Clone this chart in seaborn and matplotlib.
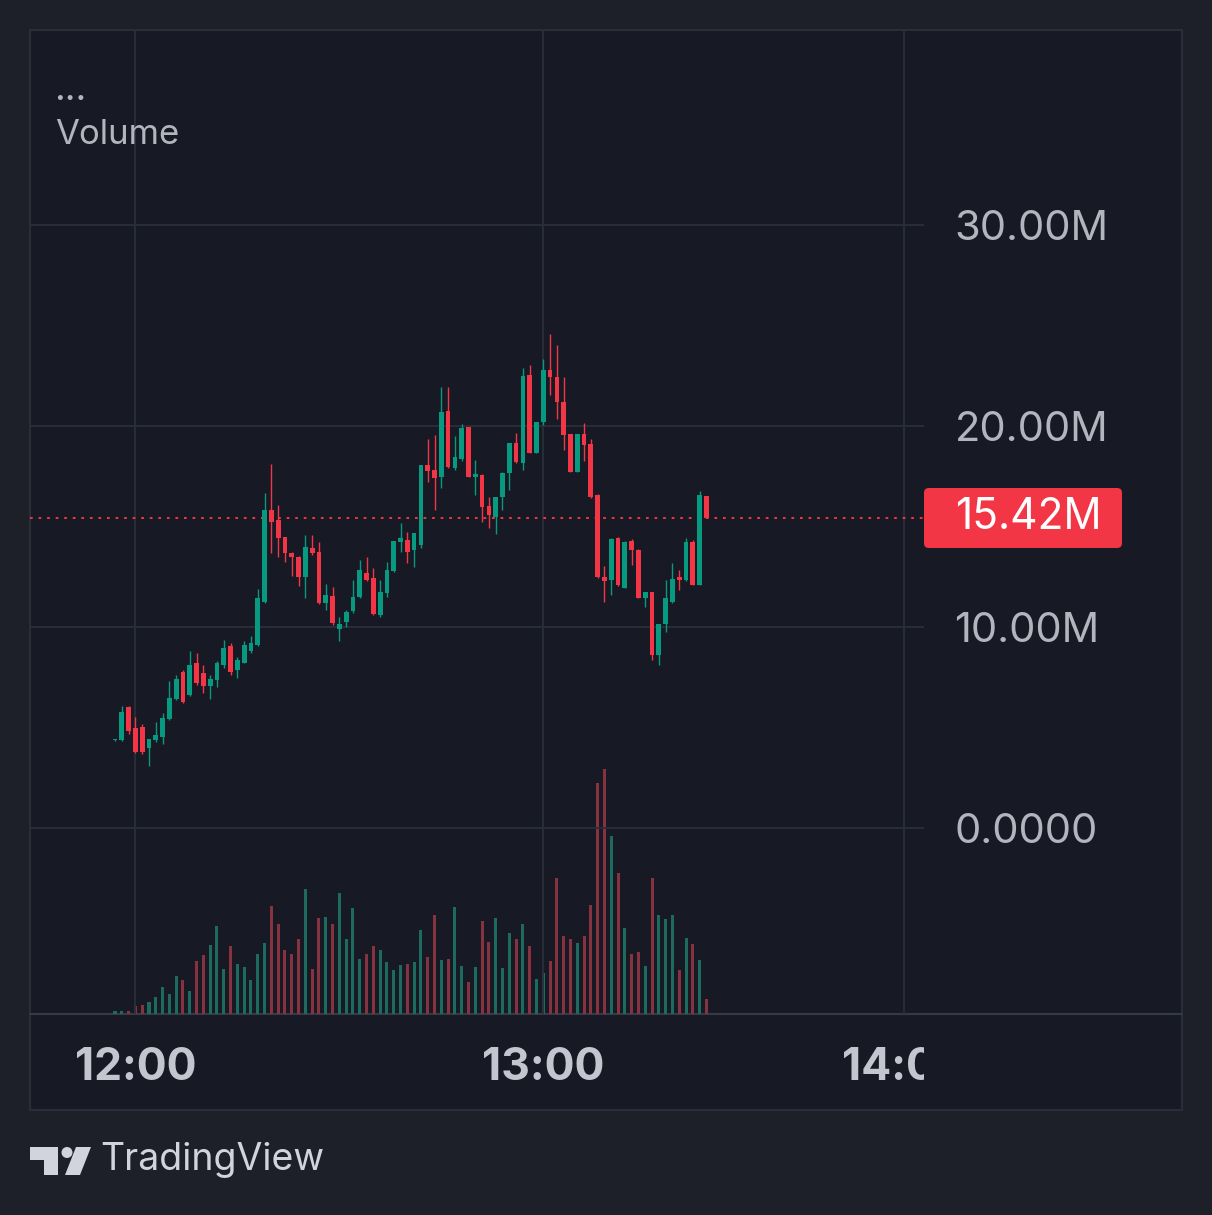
import matplotlib
matplotlib.use("Agg")
import matplotlib.pyplot as plt
from matplotlib.patches import Rectangle, FancyBboxPatch, Circle, Polygon
from matplotlib.lines import Line2D
import numpy as np
import pandas as pd
import seaborn as sns

# ---------------- data (1-minute bars, 11:57 .. 13:24), values in millions ----------------
bar_index = list(range(88))
open_ = [4.36, 4.38, 6.02, 4.98, 5.02, 3.98, 4.38, 4.53, 5.42, 6.42,
         7.76, 6.62, 8.21, 7.71, 7.06, 7.36, 8.11, 9.05, 7.86, 8.21,
         8.81, 9.10, 11.24, 15.82, 15.32, 14.48, 13.68, 13.48, 12.49, 13.93,
         13.73, 11.19, 11.54, 9.90, 10.25, 10.80, 11.49, 12.69, 12.44, 10.60,
         11.69, 12.79, 14.23, 14.33, 13.83, 14.08, 18.06, 17.81, 17.46, 20.75,
         17.91, 18.36, 19.95, 17.46, 17.56, 16.02, 15.47, 16.47, 17.66, 19.15,
         18.16, 22.54, 18.66, 20.20, 22.79, 22.44, 21.19, 19.60, 17.71, 19.60,
         19.10, 16.57, 12.49, 12.34, 14.43, 11.94, 14.28, 13.83, 11.44, 11.74,
         8.61, 10.15, 11.24, 12.49, 12.34, 14.23, 12.09, 16.52]
high = [4.43, 6.07, 6.07, 5.52, 5.17, 4.43, 5.27, 5.72, 7.31, 7.61,
        7.86, 8.81, 8.71, 8.11, 7.61, 8.31, 9.35, 9.20, 8.51, 9.30,
        9.55, 11.89, 16.67, 18.11, 16.07, 14.48, 13.73, 13.53, 14.58, 14.58,
        14.23, 12.14, 11.99, 10.50, 10.85, 12.34, 13.33, 13.48, 12.94, 12.34,
        13.23, 14.28, 15.17, 14.73, 14.68, 18.06, 19.35, 19.55, 21.94, 21.94,
        19.50, 20.10, 19.95, 18.31, 17.61, 16.47, 16.47, 17.71, 19.15, 19.65,
        22.89, 23.03, 20.20, 23.33, 24.58, 24.03, 22.44, 19.60, 19.60, 20.15,
        19.35, 16.62, 13.03, 14.43, 14.48, 14.28, 14.38, 13.88, 11.74, 11.74,
        10.15, 12.34, 13.18, 12.84, 14.43, 14.33, 16.77, 16.52]
low = [4.33, 4.33, 4.68, 3.73, 3.68, 3.08, 4.28, 4.18, 5.37, 6.37,
       6.22, 6.57, 7.11, 6.72, 6.42, 7.01, 7.96, 7.61, 7.46, 8.21,
       8.71, 9.05, 11.19, 13.68, 13.48, 13.23, 12.54, 12.04, 11.44, 13.58,
       11.14, 10.85, 10.10, 9.30, 10.00, 10.70, 11.44, 12.29, 10.60, 10.50,
       11.49, 12.74, 13.73, 13.18, 12.98, 13.93, 17.21, 15.82, 16.92, 17.91,
       17.81, 18.26, 17.46, 16.57, 15.22, 14.93, 14.63, 15.82, 16.82, 18.16,
       17.81, 18.66, 18.66, 20.05, 21.54, 20.35, 18.81, 17.71, 17.71, 18.26,
       16.42, 12.44, 11.24, 11.59, 12.04, 11.94, 13.08, 11.44, 10.99, 8.36,
       8.11, 9.75, 11.19, 11.84, 12.29, 12.09, 12.09, 15.42]
close = [4.40, 5.77, 4.83, 3.78, 3.78, 4.43, 4.63, 5.47, 6.47, 7.41,
         6.27, 8.11, 7.21, 7.06, 7.41, 8.21, 8.96, 7.76, 8.36, 9.10,
         9.20, 11.44, 15.82, 15.22, 14.43, 13.68, 13.48, 12.49, 13.98, 13.68,
         11.19, 11.59, 10.20, 10.15, 10.75, 11.49, 12.84, 12.34, 10.65, 11.74,
         12.84, 14.28, 14.43, 13.73, 14.68, 18.06, 17.76, 17.41, 20.70, 17.96,
         18.46, 19.90, 17.46, 17.61, 15.97, 15.57, 16.47, 17.66, 19.15, 18.21,
         22.49, 18.66, 20.20, 22.79, 22.44, 21.19, 19.55, 17.71, 19.60, 19.05,
         16.47, 12.49, 12.29, 14.38, 12.09, 14.23, 13.83, 11.44, 11.74, 8.61,
         10.15, 11.44, 12.39, 12.34, 14.23, 12.09, 16.57, 15.42]
# volume (x100K shares)
volume = [3, 3, 3, 8, 9, 12, 17, 27, 20, 38,
          34, 23, 53, 59, 69, 88, 45, 68, 50, 47,
          34, 60, 71, 108, 90, 64, 60, 75, 125, 45,
          96, 97, 90, 121, 75, 106, 55, 60, 68, 64,
          52, 44, 49, 50, 52, 84, 57, 99, 54, 55,
          107, 48, 32, 47, 93, 72, 96, 46, 81, 75,
          90, 68, 35, 41, 53, 136, 78, 75, 71, 78,
          109, 231, 245, 178, 141, 86, 60, 62, 48, 136,
          99, 95, 99, 44, 76, 70, 54, 15]

time_tick_pos = [3, 63, 116]
time_tick_labels = ["12:00", "13:00", "14:00"]
price_ticks = [0, 10, 20, 30]
price_tick_labels = ["0.0000", "10.00M", "20.00M", "30.00M"]
last_price = 15.42
last_price_label = "15.42M"
pane_title = "Volume"

# ---------------- style ----------------
OUTER_BG = "#1e2029"
PANE_BG = "#171a24"
BORDER = "#2a2e39"
GRID = "#2a2e39"
UP = "#089981"
DOWN = "#f23645"
VOL_UP = "#1d6a5e"
VOL_DOWN = "#86323f"
TEXT = "#b2b5be"

sns.set_theme(style="dark", rc={"axes.facecolor": PANE_BG, "figure.facecolor": OUTER_BG})
plt.rcParams["font.family"] = ["Inter", "DejaVu Sans"]

W, H = 1212, 1215
fig = plt.figure(figsize=(W / 100, H / 100), dpi=100, facecolor=OUTER_BG)


def fx(px):
    return px / W


def fy(py):
    return 1 - py / H


# pane background and frame
fig.patches.append(Rectangle((fx(30), fy(1110)), fx(1182) - fx(30), fy(30) - fy(1110),
                             transform=fig.transFigure, facecolor=PANE_BG,
                             edgecolor=BORDER, lw=1.5, zorder=-5))
fig.lines.append(Line2D([fx(30), fx(1182)], [fy(1014), fy(1014)], transform=fig.transFigure,
                        color="#363a45", lw=1.5, zorder=-4))

ax = fig.add_axes([fx(30), fy(1014), fx(924) - fx(30), fy(30) - fy(1014)])
ax.set_facecolor("none")
for s in ax.spines.values():
    s.set_visible(False)

df = pd.DataFrame({"idx": bar_index, "open": open_, "high": high, "low": low,
                   "close": close, "volume": volume})
df["dir"] = np.where(df["close"] >= df["open"], "up", "down")
colors = [UP if d == "up" else DOWN for d in df["dir"]]

# volume on twin axis
ax2 = ax.twinx()
sns.barplot(data=df, x="idx", y="volume", hue="dir", palette={"up": VOL_UP, "down": VOL_DOWN},
            native_scale=True, dodge=False, width=0.45, errorbar=None, legend=False,
            saturation=1, linewidth=0, edgecolor="none", ax=ax2)
ax2.set_ylim(0, 984)
ax2.set_yticks([])
ax2.set_ylabel("")
ax2.set_xlabel("")
for s in ax2.spines.values():
    s.set_visible(False)

# candles
ax.vlines(df["idx"], df["low"], df["high"], colors=colors, lw=1.0, zorder=3)
body_bottom = np.minimum(df["open"], df["close"])
body_h = np.maximum(np.abs(df["close"] - df["open"]), 0.06)
ax.bar(df["idx"], body_h, bottom=body_bottom, width=0.7, color=colors, lw=0, zorder=4)

# last price line
ax.axhline(last_price, color=DOWN, lw=1.4, ls=(0, (1.4, 3.0)), zorder=2)

ax.set_xlim(-12.5, 119.0)
ax.set_ylim(-9.25, 39.70)
ax.set_xticks(time_tick_pos)
ax.set_yticks(price_ticks)
ax.set_yticklabels(price_tick_labels)
ax.grid(True, color=GRID, lw=1.3)
ax.tick_params(axis="x", bottom=False, labelbottom=False, length=0)
ax.tick_params(axis="y", left=False, right=False, labelleft=False, labelright=True,
               length=0, pad=22, labelsize=30, labelcolor=TEXT)
ax.set_xlabel("")
ax.set_ylabel("")
ax.set_axisbelow(True)
ax.set_zorder(2)
ax2.set_zorder(1)
ax.patch.set_visible(False)

# time axis (labels clipped at the price scale edge)
tax = fig.add_axes([fx(30), fy(1110), fx(924) - fx(30), fy(1014) - fy(1110)])
tax.set_xlim(ax.get_xlim())
tax.set_ylim(0, 1)
tax.set_zorder(3)
tax.patch.set_visible(False)
for s in tax.spines.values():
    s.set_visible(False)
tax.set_xticks([])
tax.set_yticks([])
for p, lab in zip(time_tick_pos, time_tick_labels):
    tax.text(p, 0.44, lab, ha="center", va="center", fontsize=32, fontweight="bold",
             color="#c3c6ce", clip_on=True)

# last price badge
fig.patches.append(FancyBboxPatch((fx(924), fy(548)), fx(1122) - fx(924), fy(488) - fy(548),
                                  boxstyle="round,pad=0,rounding_size=0.004",
                                  transform=fig.transFigure, facecolor=DOWN, edgecolor="none",
                                  zorder=5))
fig.text(fx(955), fy(518), last_price_label, color="white", fontsize=30.5, ha="left",
         va="center", zorder=6)

# pane title
fig.text(fx(54), fy(90), "...", color=TEXT, fontsize=27, ha="left", va="center")
fig.text(fx(55), fy(135), pane_title, color=TEXT, fontsize=25, ha="left", va="center")

# TradingView logo and wordmark
LOGO = "#d1d4dc"
pts = [(30, 1147), (58, 1147), (58, 1175), (44, 1175), (44, 1160), (30, 1160)]
fig.patches.append(Polygon([(fx(x), fy(y)) for x, y in pts], closed=True,
                           transform=fig.transFigure, facecolor=LOGO, edgecolor="none"))
fig.patches.append(Circle((fx(67), fy(1152.5)), 5.5 / W, transform=fig.transFigure,
                          facecolor=LOGO, edgecolor="none"))
pts2 = [(76, 1147), (91, 1147), (80, 1175), (65, 1175)]
fig.patches.append(Polygon([(fx(x), fy(y)) for x, y in pts2], closed=True,
                           transform=fig.transFigure, facecolor=LOGO, edgecolor="none"))
fig.text(fx(100), fy(1160), "TradingView", color=LOGO, fontsize=27, ha="left", va="center")

fig.savefig("out.png", dpi=100, facecolor=OUTER_BG)
